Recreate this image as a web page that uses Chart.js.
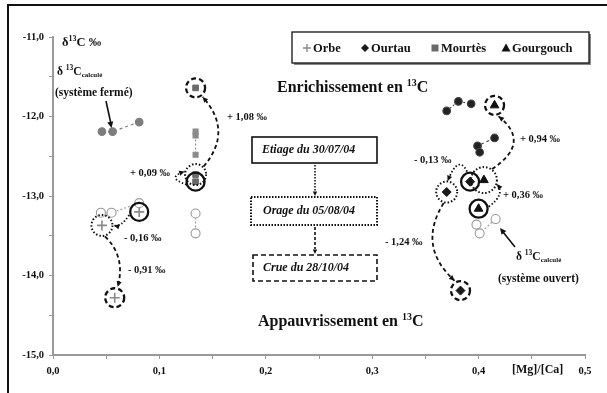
<!DOCTYPE html>
<html>
<head>
<meta charset="utf-8">
<script src="https://cdn.jsdelivr.net/npm/chart.js@4.4.0/dist/chart.umd.min.js"></script>
<style>
	html, body { margin: 0; padding: 0; background: #fff; }
</style>
</head>
<body>
<canvas id="isotopeChart" width="607" height="393"></canvas>
<script>
// sites et valeurs mesurées (ordre : Orbe, Ourtau, Mourtès, Gourgouch)
const sites = ["Orbe", "Ourtau", "Mourtès", "Gourgouch"];
const etiageMgCa = [0.081, 0.392, 0.134, 0.400];
const etiageD13C = [-13.20, -12.82, -12.82, -13.16];
const orageMgCa = [0.046, 0.370, 0.134, 0.405];
const orageD13C = [-13.37, -12.95, -12.73, -12.80];
const crueMgCa = [0.058, 0.383, 0.134, 0.415];
const crueD13C = [-14.28, -14.19, -11.64, -11.86];

// δ13C calculé, système fermé
const fermeOrbeMgCa = [0.046, 0.056, 0.081];
const fermeOrbeD13C = [-12.19, -12.19, -12.07];
const fermeMourtesMgCa = [0.134, 0.134, 0.134];
const fermeMourtesD13C = [-12.19, -12.24, -12.48];
const fermeOurtauMgCa = [0.370, 0.381, 0.393];
const fermeOurtauD13C = [-11.93, -11.81, -11.84];
const fermeGourgouchMgCa = [0.415, 0.399, 0.401];
const fermeGourgouchD13C = [-12.27, -12.37, -12.45];

// δ13C calculé, système ouvert
const ouvertOrbeMgCa = [0.045, 0.055, 0.081];
const ouvertOrbeD13C = [-13.21, -13.21, -13.09];
const ouvertMourtesMgCa = [0.134, 0.134];
const ouvertMourtesD13C = [-13.22, -13.47];
const ouvertGourgouchMgCa = [0.398, 0.401, 0.416];
const ouvertGourgouchD13C = [-13.36, -13.47, -13.29];

// écarts affichés sur les flèches
const deltaLabels = ["+ 1,08 ‰", "+ 0,09 ‰", "- 0,16 ‰", "- 0,91 ‰", "- 0,13 ‰", "+ 0,94 ‰", "+ 0,36 ‰", "- 1,24 ‰"];

const SERIF = '"Liberation Serif", "DejaVu Serif", serif';
const font = (size, italic) => (italic ? "italic " : "") + "bold " + size + "px " + SERIF;
const comma = (v) => v.toFixed(1).replace(".", ",");
const zip = (xs, ys) => xs.map((x, i) => ({ x: x, y: ys[i] }));

const siteStyle = [
	{ pointStyle: "cross", radius: 5, color: "#8a8a8a", borderWidth: 1.6 },
	{ pointStyle: "rectRot", radius: 4.5, color: "#1a1a1a", borderWidth: 1 },
	{ pointStyle: "rect", radius: 4, color: "#6a6a6a", borderWidth: 1 },
	{ pointStyle: "triangle", radius: 5, color: "#111", borderWidth: 1 },
];

let measured = sites.map((name, i) => ({
	label: name,
	data: [
		{ x: etiageMgCa[i], y: etiageD13C[i] },
		{ x: orageMgCa[i], y: orageD13C[i] },
		{ x: crueMgCa[i], y: crueD13C[i] },
	],
	pointStyle: siteStyle[i].pointStyle,
	pointRadius: siteStyle[i].radius,
	backgroundColor: siteStyle[i].color,
	borderColor: siteStyle[i].color,
	borderWidth: siteStyle[i].borderWidth,
	showLine: false,
}));

function calcSet(label, xs, ys, style, radius, fill, stroke, dash) {
	return {
		label: label,
		data: zip(xs, ys),
		pointStyle: style,
		pointRadius: radius,
		backgroundColor: fill,
		borderColor: stroke,
		pointBorderColor: stroke,
		borderWidth: 1.1,
		showLine: true,
		borderDash: dash,
		fill: false,
	};
}

let calcSets = [
	calcSet("Orbe fermé", fermeOrbeMgCa, fermeOrbeD13C, "circle", 3.8, "#7d7d7d", "#7d7d7d", [3, 3]),
	calcSet("Mourtès fermé", fermeMourtesMgCa, fermeMourtesD13C, "rect", 3.5, "#8a8a8a", "#8a8a8a", [2, 2]),
	calcSet("Ourtau fermé", fermeOurtauMgCa, fermeOurtauD13C, "circle", 3.8, "#222", "#444", [2, 2]),
	calcSet("Gourgouch fermé", fermeGourgouchMgCa, fermeGourgouchD13C, "circle", 3.8, "#222", "#444", [3, 3]),
	calcSet("Orbe ouvert", ouvertOrbeMgCa, ouvertOrbeD13C, "circle", 4.5, "#fff", "#9a9a9a", [2, 2]),
	calcSet("Mourtès ouvert", ouvertMourtesMgCa, ouvertMourtesD13C, "circle", 4.5, "#fff", "#9a9a9a", [2, 2]),
	calcSet("Gourgouch ouvert", ouvertGourgouchMgCa, ouvertGourgouchD13C, "circle", 4.5, "#fff", "#9a9a9a", [2, 2]),
	// petits symboles à l'intérieur des cercles ouverts
	calcSet("Orbe ouvert (symbole)", ouvertOrbeMgCa, ouvertOrbeD13C, "cross", 2.6, "#999", "#999", []),
	calcSet("Mourtès ouvert (symbole)", ouvertMourtesMgCa, ouvertMourtesD13C, "rect", 1.8, "#999", "#999", []),
];
calcSets.slice(-2).forEach((d) => (d.showLine = false));

function arrowHead(ctx, x, y, angle, size) {
	ctx.save();
	ctx.setLineDash([]);
	ctx.beginPath();
	ctx.moveTo(x, y);
	ctx.lineTo(x - size * Math.cos(angle - 0.45), y - size * Math.sin(angle - 0.45));
	ctx.lineTo(x - size * Math.cos(angle + 0.45), y - size * Math.sin(angle + 0.45));
	ctx.closePath();
	ctx.fill();
	ctx.restore();
}

function curve(ctx, a, c, b, dash, lw) {
	ctx.setLineDash(dash);
	ctx.lineWidth = lw;
	ctx.beginPath();
	ctx.moveTo(a.x, a.y);
	ctx.quadraticCurveTo(c.x, c.y, b.x, b.y);
	ctx.stroke();
	arrowHead(ctx, b.x, b.y, Math.atan2(b.y - c.y, b.x - c.x), 6);
}

function ring(ctx, p, r, dash, lw) {
	ctx.setLineDash(dash);
	ctx.lineWidth = lw;
	ctx.beginPath();
	ctx.arc(p.x, p.y, r, 0, Math.PI * 2);
	ctx.stroke();
}

// texte avec exposants / indices : [texte, taille, décalage vertical]
function rich(ctx, x, y, parts, italic) {
	let cx = x;
	parts.forEach((p) => {
		ctx.font = font(p[1], italic);
		ctx.fillText(p[0], cx, y + (p[2] || 0));
		cx += ctx.measureText(p[0]).width;
	});
}

function legendMark(ctx, style, x, y) {
	ctx.save();
	ctx.fillStyle = style.color;
	ctx.strokeStyle = style.color;
	ctx.setLineDash([]);
	ctx.lineWidth = 1.4;
	ctx.beginPath();
	if (style.pointStyle === "cross") {
		ctx.moveTo(x - 4, y); ctx.lineTo(x + 4, y);
		ctx.moveTo(x, y - 4); ctx.lineTo(x, y + 4);
		ctx.stroke();
	} else if (style.pointStyle === "rectRot") {
		ctx.moveTo(x, y - 4); ctx.lineTo(x + 4, y); ctx.lineTo(x, y + 4); ctx.lineTo(x - 4, y);
		ctx.fill();
	} else if (style.pointStyle === "rect") {
		ctx.rect(x - 3.5, y - 3.5, 7, 7);
		ctx.fill();
	} else {
		ctx.moveTo(x, y - 4.5); ctx.lineTo(x + 4.5, y + 3.5); ctx.lineTo(x - 4.5, y + 3.5);
		ctx.fill();
	}
	ctx.restore();
}

const annotations = {
	id: "annotations",
	beforeDraw(chart) {
		const ctx = chart.ctx;
		ctx.save();
		ctx.fillStyle = "#fff";
		ctx.fillRect(0, 0, chart.width, chart.height);
		ctx.strokeStyle = "#111";
		ctx.lineWidth = 2;
		ctx.beginPath();
		ctx.moveTo(8, chart.height);
		ctx.lineTo(8, 5);
		ctx.lineTo(chart.width, 5);
		ctx.stroke();
		ctx.restore();
	},
	afterDatasetsDraw(chart) {
		const ctx = chart.ctx;
		const sx = chart.scales.x;
		const sy = chart.scales.y;
		const px = (x, y) => ({ x: sx.getPixelForValue(x), y: sy.getPixelForValue(y) });
		ctx.save();
		ctx.strokeStyle = "#111";
		ctx.fillStyle = "#111";

		const E = sites.map((s, i) => px(etiageMgCa[i], etiageD13C[i]));
		const O = sites.map((s, i) => px(orageMgCa[i], orageD13C[i]));
		const C = sites.map((s, i) => px(crueMgCa[i], crueD13C[i]));

		// cercles : étiage (plein), orage (pointillé), crue (tirets)
		sites.forEach((s, i) => {
			ring(ctx, E[i], 9, [], 2.3);
			ring(ctx, O[i], i === 3 ? 13 : 10.5, [1.5, 2], 2);
			ring(ctx, C[i], 9.5, [5, 3], 2.3);
		});

		// flèches entre événements
		// Orbe
		curve(ctx, { x: E[0].x - 10, y: E[0].y + 3 }, { x: E[0].x - 18, y: O[0].y + 2 }, { x: O[0].x + 12, y: O[0].y }, [1.5, 2], 1.8);
		curve(ctx, { x: O[0].x + 3, y: O[0].y + 11 }, { x: O[0].x + 24, y: (O[0].y + C[0].y) / 2 - 5 }, { x: C[0].x + 3, y: C[0].y - 11 }, [4, 3], 1.8);
		// Mourtès
		curve(ctx, { x: E[2].x - 9, y: E[2].y + 3 }, { x: E[2].x - 30, y: E[2].y - 4 }, { x: O[2].x - 11, y: O[2].y - 3 }, [1.5, 2], 1.8);
		curve(ctx, { x: O[2].x + 8, y: O[2].y - 8 }, { x: O[2].x + 38, y: (O[2].y + C[2].y) / 2 }, { x: C[2].x + 7, y: C[2].y + 9 }, [4, 3], 1.8);
		// Ourtau
		curve(ctx, { x: E[1].x - 3, y: E[1].y - 10 }, { x: (E[1].x + O[1].x) / 2, y: E[1].y - 28 }, { x: O[1].x + 1, y: O[1].y - 11 }, [1.5, 2], 1.8);
		curve(ctx, { x: O[1].x - 3, y: O[1].y + 11 }, { x: O[1].x - 30, y: (O[1].y + C[1].y) / 2 + 5 }, { x: C[1].x - 6, y: C[1].y - 10 }, [4, 3], 1.8);
		// Gourgouch
		curve(ctx, { x: E[3].x + 10, y: E[3].y - 2 }, { x: E[3].x + 27, y: E[3].y - 14 }, { x: O[3].x + 13, y: O[3].y + 4 }, [1.5, 2], 1.8);
		curve(ctx, { x: O[3].x + 8, y: O[3].y - 11 }, { x: O[3].x + 48, y: (O[3].y + C[3].y) / 2 }, { x: C[3].x + 4, y: C[3].y + 11 }, [4, 3], 1.8);

		// écarts
		ctx.setLineDash([]);
		ctx.textBaseline = "middle";
		ctx.textAlign = "left";
		ctx.font = font(10.5);
		const labelPos = [[227, 117], [130, 173], [124, 238], [128, 270], [414, 160], [520, 139], [503, 195], [385, 242]];
		deltaLabels.forEach((t, i) => ctx.fillText(t, labelPos[i][0], labelPos[i][1]));

		// titres
		rich(ctx, 277, 88, [["Enrichissement en ", 16], ["13", 10, -5], ["C", 16]]);
		rich(ctx, 258, 322, [["Appauvrissement en ", 16], ["13", 10, -5], ["C", 16]]);
		rich(ctx, 62, 43, [["δ", 12.5], ["13", 8, -4], ["C ‰", 12.5]]);
		ctx.font = font(12);
		ctx.fillText("[Mg]/[Ca]", 512, 370);

		// δ13C calculé
		rich(ctx, 57, 72, [["δ ", 11.5], ["13", 7.5, -4], ["C", 11.5], ["calculé", 7, 3]]);
		ctx.font = font(11.5);
		ctx.fillText("(système fermé)", 55, 93);
		rich(ctx, 516, 257, [["δ ", 11.5], ["13", 7.5, -4], ["C", 11.5], ["calculé", 7, 3]]);
		ctx.font = font(11.5);
		ctx.fillText("(système ouvert)", 498, 279);
		ctx.lineWidth = 1.6;
		ctx.beginPath(); ctx.moveTo(106, 101); ctx.lineTo(111, 124); ctx.stroke();
		arrowHead(ctx, 111.5, 128, Math.atan2(27, 5.5), 7);
		ctx.beginPath(); ctx.moveTo(515, 247); ctx.lineTo(503, 232); ctx.stroke();
		arrowHead(ctx, 500, 228, Math.atan2(-19, -15), 7);

		// cadres des événements
		ctx.lineWidth = 1.6;
		ctx.setLineDash([]);
		ctx.strokeRect(252, 137, 125, 26);
		ctx.lineWidth = 2;
		ctx.setLineDash([1.5, 1.5]);
		ctx.strokeRect(251, 197, 126, 28);
		ctx.lineWidth = 1.6;
		ctx.setLineDash([5, 3]);
		ctx.strokeRect(253, 255, 124, 26);
		ctx.font = font(12, true);
		ctx.fillText("Etiage du 30/07/04", 262, 150);
		ctx.fillText("Orage du 05/08/04", 263, 211);
		ctx.fillText("Crue du 28/10/04", 263, 268);
		ctx.lineWidth = 1.6;
		ctx.setLineDash([1.5, 1.5]);
		ctx.beginPath(); ctx.moveTo(315, 165); ctx.lineTo(315, 191); ctx.stroke();
		arrowHead(ctx, 315, 196, Math.PI / 2, 5);
		ctx.setLineDash([3, 2]);
		ctx.beginPath(); ctx.moveTo(315, 227); ctx.lineTo(315, 249); ctx.stroke();
		arrowHead(ctx, 315, 254, Math.PI / 2, 5);

		// légende
		ctx.setLineDash([]);
		ctx.fillStyle = "#888";
		ctx.fillRect(294, 34, 297, 31);
		ctx.fillStyle = "#fff";
		ctx.fillRect(292, 32, 297, 31);
		ctx.lineWidth = 1.3;
		ctx.strokeStyle = "#111";
		ctx.strokeRect(292, 32, 297, 31);
		const legendX = [307, 365, 435, 506];
		ctx.font = font(12.5);
		sites.forEach((s, i) => {
			legendMark(ctx, siteStyle[i], legendX[i], 48);
			ctx.fillStyle = "#111";
			ctx.fillText(s, legendX[i] + 6, 49);
		});
		ctx.restore();
	},
};

let isoChart = new Chart(document.getElementById("isotopeChart"), {
	type: "scatter",
	data: { datasets: calcSets.concat(measured) },
	options: {
		responsive: false,
		animation: false,
		devicePixelRatio: 1,
		layout: { padding: { left: 8, top: 37, right: 22, bottom: 0 } },
		plugins: {
			legend: { display: false },
			tooltip: { enabled: false },
		},
		scales: {
			x: {
				type: "linear",
				min: 0,
				max: 0.5,
				afterFit: (scale) => { scale.height = 38; },
				ticks: {
					stepSize: 0.05,
					padding: 6,
					color: "#111",
					font: { family: SERIF, size: 10.5, weight: "bold" },
					callback: (v) => (Math.abs(v * 10 - Math.round(v * 10)) < 1e-6 ? comma(v) : ""),
				},
				grid: { drawOnChartArea: false, color: "#999", tickLength: 4 },
				border: { color: "#999", width: 2 },
			},
			y: {
				type: "linear",
				min: -15,
				max: -11,
				afterFit: (scale) => { scale.width = 45; },
				ticks: {
					stepSize: 0.5,
					padding: 5,
					color: "#111",
					font: { family: SERIF, size: 10.5, weight: "bold" },
					callback: (v) => (Math.abs(v - Math.round(v)) < 1e-6 ? comma(v) : ""),
				},
				grid: { drawOnChartArea: false, color: "#999", tickLength: 4 },
				border: { color: "#999", width: 2 },
			},
		},
	},
	plugins: [annotations],
});
</script>
</body>
</html>
